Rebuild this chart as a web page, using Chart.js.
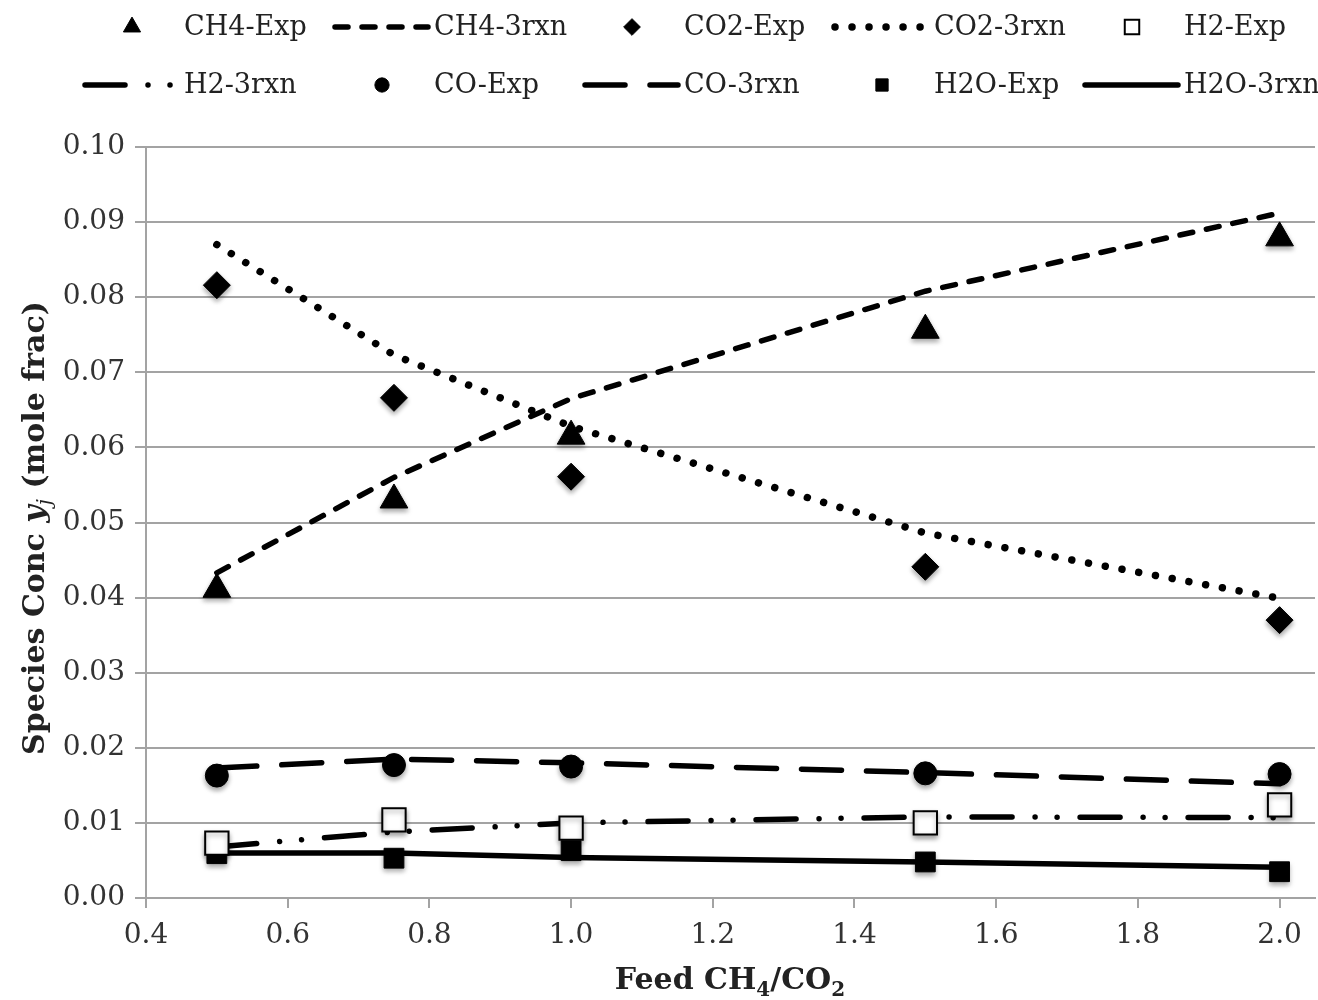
<!DOCTYPE html>
<html>
<head>
<meta charset="utf-8">
<script src="https://cdn.jsdelivr.net/npm/chart.js"></script>
<style>
  body { margin: 0; background: #fff; }
  #wrap { width: 1318px; height: 1000px; }
</style>
</head>
<body>
<div id="wrap"><canvas id="conc" width="1318" height="1000"></canvas></div>
<script>
// feed ratio CH4/CO2 and species mole fractions (exp = markers, 3rxn = model lines)
const feedRatio = [0.5, 0.75, 1.0, 1.5, 2.0]
const ch4Exp = [0.0411, 0.0530, 0.0615, 0.0756, 0.0879]
const ch4Model = [0.0433, 0.0560, 0.0665, 0.0808, 0.0912]
const co2Exp = [0.0816, 0.0666, 0.0561, 0.0441, 0.0370]
const co2Model = [0.0870, 0.0723, 0.0628, 0.0486, 0.0399]
const h2Exp = [0.0073, 0.0104, 0.0093, 0.0100, 0.0124]
const h2Model = [0.0068, 0.0088, 0.0100, 0.0108, 0.0107]
const coExp = [0.0163, 0.0177, 0.0175, 0.0166, 0.0165]
const coModel = [0.0173, 0.0185, 0.0180, 0.0167, 0.0152]
const h2oExp = [0.0059, 0.0053, 0.0063, 0.0048, 0.0035]
const h2oModel = [0.0060, 0.0060, 0.0054, 0.0048, 0.0041]

const xTicks = [0.4, 0.6, 0.8, 1.0, 1.2, 1.4, 1.6, 1.8, 2.0]

const SERIF = '"DejaVu Serif", serif'
const pts = arr => feedRatio.map((x, i) => ({ x: x, y: arr[i] }))

// markers only
function expSet(label, arr, style, radius, fill) {
  return {
    label: label,
    data: pts(arr),
    showLine: false,
    pointStyle: style,
    pointRadius: radius,
    pointHoverRadius: radius,
    pointBorderWidth: fill ? 1 : 2,
    backgroundColor: fill ? '#000' : '#fff',
    borderColor: '#000',
    order: 0
  }
}

// model lines, no markers
function modelSet(label, arr, dash, width, cap) {
  return {
    label: label,
    data: pts(arr),
    showLine: true,
    pointRadius: 0,
    borderColor: '#000',
    backgroundColor: '#000',
    borderWidth: width,
    borderDash: dash,
    borderCapStyle: cap,
    tension: 0,
    order: 1
  }
}

const datasets = [
  expSet('CH4-Exp', ch4Exp, 'triangle', 16, true),
  modelSet('CH4-3rxn', ch4Model, [13, 14], 5.5, 'round'),
  expSet('CO2-Exp', co2Exp, 'rectRot', 13.5, true),
  modelSet('CO2-3rxn', co2Model, [0.01, 17], 7.5, 'round'),
  expSet('H2-Exp', h2Exp, 'rect', 16.5, false),
  modelSet('H2-3rxn', h2Model, [40, 23, 0.01, 22, 0.01, 23], 5.5, 'round'),
  expSet('CO-Exp', coExp, 'circle', 11.5, true),
  modelSet('CO-3rxn', coModel, [40, 25], 5.5, 'round'),
  expSet('H2O-Exp', h2oExp, 'rect', 14, true),
  modelSet('H2O-3rxn', h2oModel, [], 5.5, 'round')
]

// soft shadow under the experimental markers
const markerShadow = {
  id: 'markerShadow',
  beforeDatasetDraw(chart, args) {
    if (chart.data.datasets[args.index].showLine !== false) return
    const ctx = chart.ctx
    ctx.save()
    ctx.shadowColor = 'rgba(0,0,0,0.35)'
    ctx.shadowBlur = 5
    ctx.shadowOffsetY = 3
  },
  afterDatasetDraw(chart, args) {
    if (chart.data.datasets[args.index].showLine !== false) return
    chart.ctx.restore()
  }
}

// two-row legend laid out in fixed columns like the excel one
const gridLegend = {
  id: 'gridLegend',
  afterDraw(chart) {
    const ctx = chart.ctx
    ctx.save()
    ctx.textBaseline = 'middle'
    chart.data.datasets.forEach((ds, i) => {
      const x = 82 + 250 * (i % 5)
      const y = i < 5 ? 27 : 85
      ctx.save()
      ctx.fillStyle = ds.backgroundColor
      ctx.strokeStyle = ds.borderColor
      if (ds.showLine === false) {
        ctx.lineWidth = ds.pointBorderWidth
        Chart.helpers.drawPoint(ctx, {
          pointStyle: ds.pointStyle,
          radius: ds.pointRadius * 0.62,
          rotation: 0,
          borderWidth: ds.pointBorderWidth
        }, x + 50, y)
      } else {
        ctx.lineWidth = ds.borderWidth
        ctx.lineCap = ds.borderCapStyle
        ctx.setLineDash(ds.borderDash)
        ctx.beginPath()
        ctx.moveTo(x + 3, y)
        ctx.lineTo(x + 96, y)
        ctx.stroke()
      }
      ctx.restore()
      ctx.fillStyle = '#222'
      ctx.font = '27px ' + SERIF
      ctx.fillText(ds.label, x + 102, y + 1)
    })
    ctx.restore()
  }
}

// axis titles with sub/italic parts
function partsWidth(ctx, parts) {
  let w = 0
  parts.forEach(p => { ctx.font = p.font; w += ctx.measureText(p.text).width })
  return w
}
function drawParts(ctx, parts, x, y) {
  parts.forEach(p => {
    ctx.font = p.font
    ctx.fillText(p.text, x, y + (p.dy || 0))
    x += ctx.measureText(p.text).width
  })
}

const axisTitles = {
  id: 'axisTitles',
  afterDraw(chart) {
    const ctx = chart.ctx
    const bold = 'bold 30px ' + SERIF
    const sub = 'bold 20px ' + SERIF
    ctx.save()
    ctx.fillStyle = '#222'
    ctx.textBaseline = 'alphabetic'

    const xParts = [
      { text: 'Feed CH', font: bold },
      { text: '4', font: sub, dy: 7 },
      { text: '/CO', font: bold },
      { text: '2', font: sub, dy: 7 }
    ]
    const xw = partsWidth(ctx, xParts)
    drawParts(ctx, xParts, 730 - xw / 2, 989)

    const yParts = [
      { text: 'Species Conc ', font: bold },
      { text: 'y', font: 'bold italic 30px ' + SERIF },
      { text: 'j', font: 'italic 20px ' + SERIF, dy: 7 },
      { text: ' (mole frac)', font: bold }
    ]
    const yw = partsWidth(ctx, yParts)
    ctx.translate(44, 528)
    ctx.rotate(-Math.PI / 2)
    drawParts(ctx, yParts, -yw / 2, 0)
    ctx.restore()
  }
}

const ctx = document.getElementById('conc').getContext('2d')

new Chart(ctx, {
  type: 'scatter',
  data: { datasets: datasets },
  options: {
    responsive: false,
    animation: false,
    devicePixelRatio: 1,
    layout: {
      autoPadding: false,
      padding: { left: 0, right: 3, top: 147, bottom: 0 }
    },
    plugins: {
      legend: { display: false },
      tooltip: { enabled: false }
    },
    scales: {
      x: {
        type: 'linear',
        min: 0.4,
        max: 2.05,
        afterFit(scale) {
          scale.height = 102
          scale.paddingLeft = 0
          scale.paddingRight = 0
        },
        afterBuildTicks(scale) { scale.ticks = xTicks.map(v => ({ value: v })) },
        ticks: {
          font: { family: SERIF, size: 28 },
          color: '#333',
          padding: 11,
          maxRotation: 0,
          callback: v => Number(v).toFixed(1)
        },
        grid: {
          drawOnChartArea: false,
          drawTicks: true,
          tickLength: 10,
          color: '#a3a3a3',
          lineWidth: 2
        },
        border: { color: '#a3a3a3', width: 2 }
      },
      y: {
        min: 0,
        max: 0.10,
        afterFit(scale) {
          scale.width = 146
          scale.paddingTop = 0
          scale.paddingBottom = 0
        },
        ticks: {
          stepSize: 0.01,
          font: { family: SERIF, size: 28 },
          color: '#333',
          padding: 10,
          callback: v => Number(v).toFixed(2)
        },
        grid: {
          color: '#a3a3a3',
          lineWidth: 2,
          tickLength: 11
        },
        border: { color: '#a3a3a3', width: 2 }
      }
    }
  },
  plugins: [markerShadow, gridLegend, axisTitles]
})
</script>
</body>
</html>
